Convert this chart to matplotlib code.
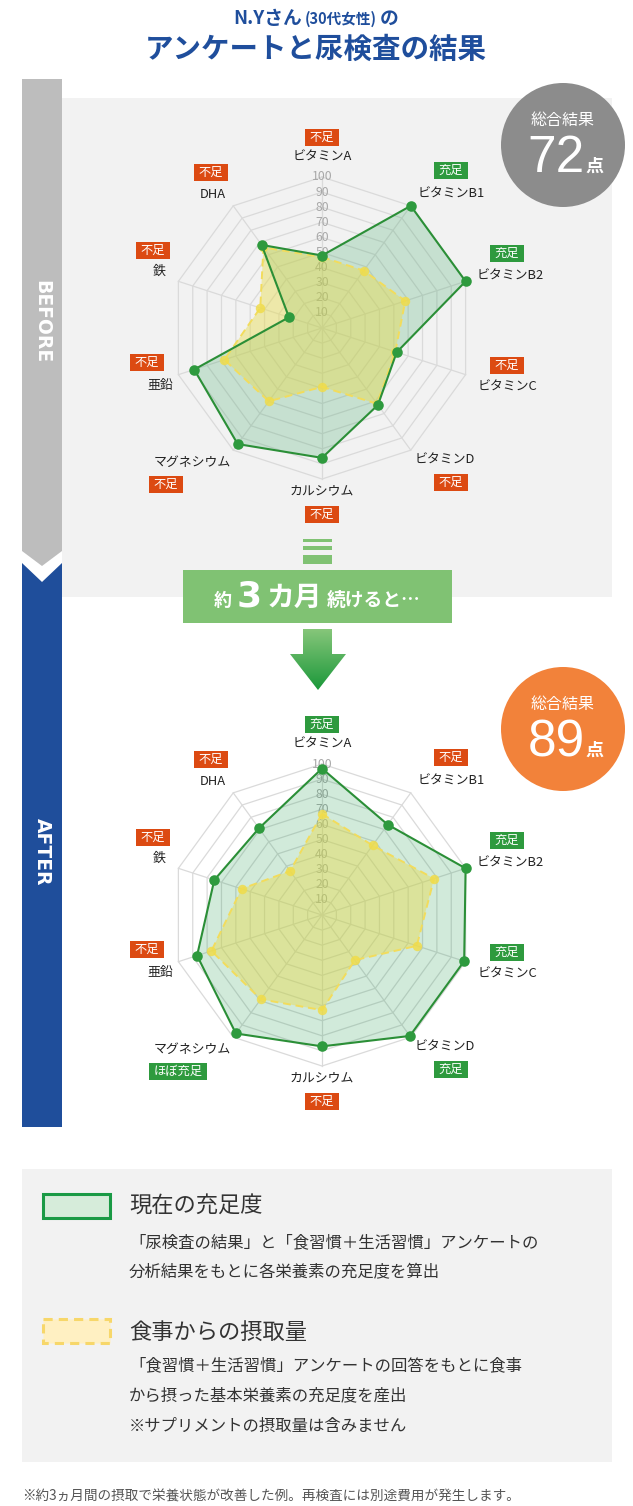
import numpy as np
import matplotlib
matplotlib.use("Agg")
import matplotlib.pyplot as plt
from matplotlib.patches import Rectangle, Polygon, Circle

plt.rcParams["font.family"] = ["Noto Sans CJK JP", "DejaVu Sans"]

# data
nutrients = ["ビタミンA", "ビタミンB1", "ビタミンB2", "ビタミンC", "ビタミンD",
             "カルシウム", "マグネシウム", "亜鉛", "鉄", "DHA"]
before_current = [48, 100, 100, 52, 63, 86, 95, 89, 23, 68]
before_diet = [47, 47, 58, 51, 62, 39, 60, 68, 43, 66]
after_current = [97, 74, 100, 99, 99, 87, 97, 87, 75, 71]
after_diet = [67, 57, 78, 66, 37, 63, 69, 77, 56, 36]
before_status = ["不足", "充足", "充足", "不足", "不足", "不足", "不足", "不足", "不足", "不足"]
after_status = ["充足", "不足", "充足", "充足", "充足", "不足", "ほぼ充足", "不足", "不足", "不足"]
rings = [10, 20, 30, 40, 50, 60, 70, 80, 90, 100]
before_score = "72"
after_score = "89"

W, H = 633, 1506
BLUE = "#1f4e9c"
GREEN_BADGE = "#2e9a3e"
RED_BADGE = "#dc4a12"
LINE_GREEN = "#2b8f37"

fig = plt.figure(figsize=(W / 100, H / 100), dpi=100)
bg = fig.add_axes([0, 0, 1, 1])
bg.set_xlim(0, W)
bg.set_ylim(H, 0)
bg.set_axis_off()
renderer = fig.canvas.get_renderer()


def row(xc, y, parts, color, gap=0):
    # lay out pieces of different size on one baseline, centred on xc
    texts = []
    for s, size, weight, fam in parts:
        kw = {"family": fam} if fam else {}
        texts.append(bg.text(0, y, s, fontsize=size, fontweight=weight, color=color,
                             ha="left", va="baseline", zorder=3, **kw))
    widths = [t.get_window_extent(renderer).width for t in texts]
    x = xc - (sum(widths) + gap * (len(texts) - 1)) / 2
    for t, w in zip(texts, widths):
        t.set_x(x)
        x += w + gap


# title
row(316, 24, [("N.Yさん", 13.5, "bold", None), ("(30代女性)", 10.5, "bold", None),
              ("の", 13.5, "bold", None)], BLUE, gap=3)
bg.text(316, 50, "アンケートと尿検査の結果", fontsize=20.5, fontweight="bold",
        color=BLUE, ha="center", va="center")

# side bars
bg.add_patch(Polygon([(22, 79), (62, 79), (62, 551), (42, 566), (22, 551)],
                     fc="#bdbdbd", ec="none"))
bg.add_patch(Polygon([(22, 563), (42, 582), (62, 563), (62, 1127), (22, 1127)],
                     fc="#1f4e9b", ec="none"))
bg.text(42, 322, "BEFORE", rotation=-90, color="white", fontsize=13.5,
        fontweight="bold", ha="center", va="center", family="DejaVu Sans")
bg.text(42, 852, "AFTER", rotation=-90, color="white", fontsize=13.5,
        fontweight="bold", ha="center", va="center", family="DejaVu Sans")

# panels
bg.add_patch(Rectangle((62, 98), 550, 499, fc="#f2f2f2", ec="none"))
bg.add_patch(Rectangle((22, 1169), 590, 293, fc="#f2f2f2", ec="none"))

# score circles
for cy, col, score in [(145, "#8c8c8c", before_score), (729, "#f2823a", after_score)]:
    bg.add_patch(Circle((563, cy), 62, fc=col, ec="none", zorder=3))
    bg.text(563, cy - 25, "総合結果", color="white", fontsize=11.5, ha="center",
            va="center", zorder=4)
    t1 = bg.text(0, cy + 27, score, color="white", fontsize=37, ha="left",
                 va="baseline", family="Liberation Sans", zorder=4)
    t2 = bg.text(0, cy + 27, "点", color="white", fontsize=13, fontweight="bold",
                 ha="left", va="baseline", zorder=4)
    w1 = t1.get_window_extent(renderer).width
    w2 = t2.get_window_extent(renderer).width
    x0 = 563 - (w1 + w2) / 2 + 2
    t1.set_x(x0)
    t2.set_x(x0 + w1 + 1)

# stripes, banner, arrow
for y0, hh in [(539, 2.5), (546, 4), (555, 9)]:
    bg.add_patch(Rectangle((303, y0), 29, hh, fc="#80c273", ec="none"))
bg.add_patch(Rectangle((183, 570), 269, 53, fc="#80c273", ec="none", zorder=2))
row(317, 606, [("約", 13, "bold", None), ("3", 26, "bold", "DejaVu Sans"),
               ("カ月", 20, "bold", None), ("続けると…", 13.5, "bold", None)],
    "white", gap=5)

arrow = Polygon([(303, 629), (332, 629), (332, 654), (346, 654), (318, 690),
                 (290, 654), (303, 654)], closed=True, fc="none", ec="none")
bg.add_patch(arrow)
grad = np.linspace(0, 1, 100).reshape(-1, 1)
cmap = matplotlib.colors.LinearSegmentedColormap.from_list("g", ["#86c67a", "#1b983a"])
im = bg.imshow(grad, cmap=cmap, extent=(288, 348, 690, 629), aspect="auto")
im.set_clip_path(arrow)
bg.set_xlim(0, W)
bg.set_ylim(H, 0)

# radar charts
theta = np.linspace(0, 2 * np.pi, len(nutrients), endpoint=False)
tc = np.append(theta, theta[0])

name_off = [(0, -171), (129, -134), (188, -52), (185, 59), (123, 132),
            (0, 163), (-130, 134), (-162, 57), (-163, -57), (-109, -134)]
badge_off = [(0, -191), (129, -158), (185, -75), (185, 37), (129, 154),
             (0, 186), (-173, 156), (-175, 34), (-169, -78), (-111, -156)]


def badge(x, y, s, left=False):
    w = 12 * len(s) + 10
    h = 17
    if left:
        x = x + w / 2
    col = GREEN_BADGE if "充足" in s else RED_BADGE
    bg.add_patch(Rectangle((x - w / 2, y - h / 2), w, h, fc=col, ec="none"))
    bg.text(x, y + 0.5, s, color="white", fontsize=8.8, ha="center", va="center")


def radar(cx, cy, R, current, diet, status):
    ax = fig.add_axes([(cx - R) / W, 1 - (cy + R) / H, 2 * R / W, 2 * R / H],
                      projection="polar")
    ax.set_theta_zero_location("N")
    ax.set_theta_direction(-1)
    ax.set_ylim(0, 100)
    ax.set_axis_off()
    for r in rings:
        ax.plot(tc, [r] * len(tc), color="#dadada", lw=0.9, zorder=1, clip_on=False)
    for t in theta:
        ax.plot([t, t], [0, 100], color="#dadada", lw=0.9, zorder=1, clip_on=False)
    for r in rings:
        ax.text(0, r, str(r), color="#a8a8a8", fontsize=8.8, ha="center",
                va="center", zorder=2)
    cur = np.append(current, current[0])
    die = np.append(diet, diet[0])
    ax.fill(tc, cur, color="#2ea05a", alpha=0.22, lw=0, zorder=3, clip_on=False)
    ax.fill(tc, die, color="#e8dc50", alpha=0.45, lw=0, zorder=4, clip_on=False)
    ax.plot(tc, die, color="#f2dc5c", lw=1.4, ls=(0, (4, 2.5)), zorder=5, clip_on=False)
    ax.plot(theta, diet, ls="none", marker="o", ms=6.8, mfc="#f0dc4a", mec="none",
            alpha=0.85, zorder=6, clip_on=False)
    ax.plot(tc, cur, color=LINE_GREEN, lw=1.5, zorder=7, clip_on=False)
    ax.plot(theta, current, ls="none", marker="o", ms=7.6, mfc="#2e9a3e",
            mec="none", zorder=8, clip_on=False)
    for i, name in enumerate(nutrients):
        bg.text(cx + name_off[i][0], cy + name_off[i][1], name, fontsize=9.3,
                color="#222222", ha="center", va="center")
        badge(cx + badge_off[i][0], cy + badge_off[i][1], status[i], left=(i == 6))


radar(322, 328, 151, before_current, before_diet, before_status)
radar(322, 915, 151, after_current, after_diet, after_status)

# legend
bg.add_patch(Rectangle((43, 1194), 67, 24, fc="#d6ecda", ec="#1a9a45", lw=2.2))
bg.add_patch(Rectangle((43, 1319), 67, 24, fc="#fff0c2", ec="#f7d76a", lw=2.2,
                       ls=(0, (3, 2))))
TXT = "#333333"
bg.text(129, 1206, "現在の充足度", fontsize=16, color=TXT, va="center")
bg.text(129, 1243, "「尿検査の結果」と「食習慣＋生活習慣」アンケートの", fontsize=11.8,
        color=TXT, va="center")
bg.text(129, 1273, "分析結果をもとに各栄養素の充足度を算出", fontsize=11.8,
        color=TXT, va="center")
bg.text(129, 1332, "食事からの摂取量", fontsize=16, color=TXT, va="center")
bg.text(129, 1366, "「食習慣＋生活習慣」アンケートの回答をもとに食事", fontsize=11.8,
        color=TXT, va="center")
bg.text(129, 1396, "から摂った基本栄養素の充足度を産出", fontsize=11.8,
        color=TXT, va="center")
bg.text(129, 1426, "※サプリメントの摂取量は含みません", fontsize=11.8,
        color=TXT, va="center")
bg.text(22, 1497, "※約3ヵ月間の摂取で栄養状態が改善した例。再検査には別途費用が発生します。",
        fontsize=9.8, color="#555555", va="center")

fig.savefig("out.png", dpi=100)
